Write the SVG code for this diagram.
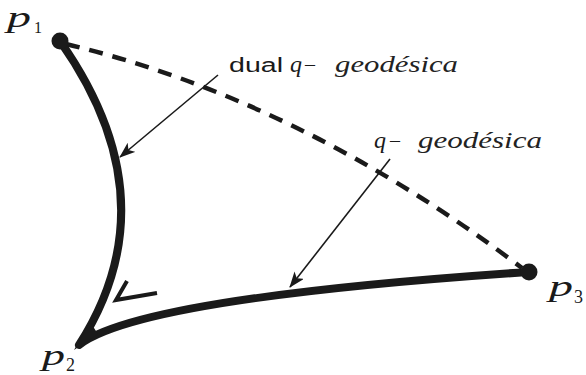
<svg xmlns="http://www.w3.org/2000/svg" width="586" height="375" viewBox="0 0 586 375">
<style>
.thick{fill:none;stroke:#1a1a1a;stroke-width:8;stroke-linejoin:round;stroke-linecap:round}
.dash{fill:none;stroke:#1a1a1a;stroke-width:4.5;stroke-dasharray:14 10}
.arr{fill:none;stroke:#1a1a1a;stroke-width:1.6}
text{font-family:"Liberation Serif","DejaVu Serif",serif;fill:#1a1a1a}
.it{font-style:italic}
.geo{font-style:italic;fill:#222}
.sans{font-family:"Liberation Sans","DejaVu Sans",sans-serif}
</style>
<defs>
<marker id="ah" viewBox="0 0 16 12" refX="15" refY="6" markerWidth="16" markerHeight="12" markerUnits="userSpaceOnUse" orient="auto">
<path d="M0,0 L16,6 L0,12 L4,6 Z" fill="#1a1a1a"/>
</marker>
</defs>
<rect width="586" height="375" fill="#fff"/>
<g id="connectors">
<path id="dual-geodesic" class="dash" d="M66,44 Q300,100 522,268"/>
<path id="geodesics" class="thick" d="M60,41 Q172,200 79,345 Q140,298 528,272"/>
<polygon id="cusp" points="74,350 90,322 98,334" fill="#1a1a1a"/>
<polyline id="angle-mark" points="127,281 116,300 157,293" fill="none" stroke="#1a1a1a" stroke-width="4"/>
<line class="arr" x1="218" y1="75" x2="120" y2="157" marker-end="url(#ah)"/>
<line class="arr" x1="390" y1="159" x2="290" y2="287" marker-end="url(#ah)"/>
</g>
<g id="p1">
<circle cx="60" cy="41" r="8.5" fill="#1a1a1a"/>
<text class="it" x="7" y="27" font-size="30" textLength="24" lengthAdjust="spacingAndGlyphs">p</text>
<text x="34" y="33" font-size="16">1</text>
</g>
<g id="p2">
<text class="it" x="42" y="365" font-size="30" textLength="23" lengthAdjust="spacingAndGlyphs">p</text>
<text x="66" y="371" font-size="18">2</text>
</g>
<g id="p3">
<circle cx="529" cy="272" r="8.5" fill="#1a1a1a"/>
<text class="it" x="549" y="296" font-size="30" textLength="24" lengthAdjust="spacingAndGlyphs">p</text>
<text x="574" y="303" font-size="18">3</text>
</g>
<g id="label-dual">
<text class="sans" x="229" y="72" font-size="20" textLength="54" lengthAdjust="spacingAndGlyphs">dual</text>
<text class="it" x="290" y="72" font-size="24">q</text>
<text x="305" y="71" font-size="20">–</text>
<text class="geo" x="335" y="72" font-size="24" textLength="123" lengthAdjust="spacingAndGlyphs">geodésica</text>
</g>
<g id="label-q">
<text class="it" x="374" y="148" font-size="24">q</text>
<text x="390" y="147" font-size="20">–</text>
<text class="geo" x="418" y="148" font-size="24" textLength="124" lengthAdjust="spacingAndGlyphs">geodésica</text>
</g>
</svg>
